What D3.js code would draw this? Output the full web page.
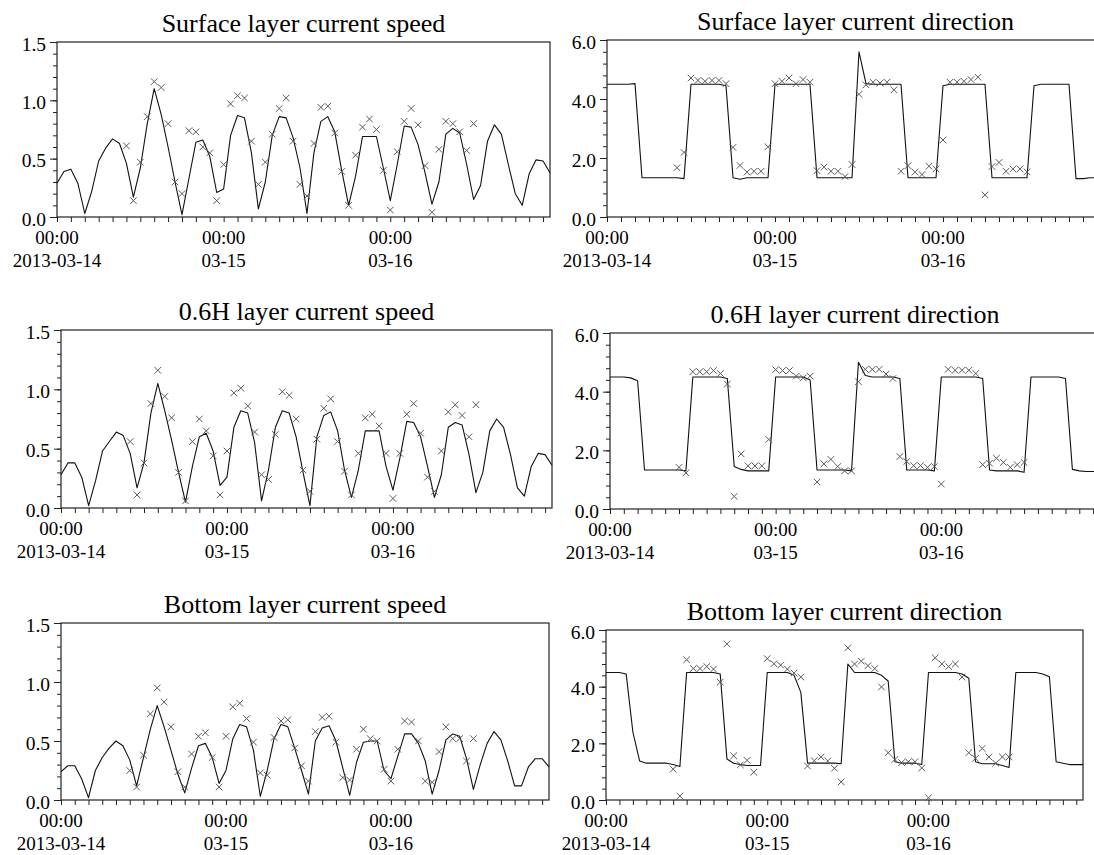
<!DOCTYPE html>
<html>
<head>
<meta charset="utf-8">
<script src="https://cdn.jsdelivr.net/npm/d3@7"></script>
<style>
  body { margin: 0; background: #fff; }
  svg { display: block; font-family: "Liberation Serif", "Times New Roman", serif; }
</style>
</head>
<body>
<svg id="chart" width="1094" height="855"></svg>
<script>
// hourly model output, 2013-03-14 00:00 .. 03-16 23:00
const hours = d3.range(72);
// hours with measurements (03-14 10:00 .. 03-16 12:00)
const obsHours = d3.range(10, 61);

const titles = [
  'Surface layer current speed', 'Surface layer current direction',
  '0.6H layer current speed', '0.6H layer current direction',
  'Bottom layer current speed', 'Bottom layer current direction'
];

const dayTicks = [0, 24, 48];
const timeLabels = ['00:00', '00:00', '00:00'];
const dateLabels = ['2013-03-14', '03-15', '03-16'];

const speedTicks = [0, 0.5, 1.0, 1.5];
const dirTicks = [0, 2, 4, 6];

// surface layer
const surfSpeedModel = [
  0.29, 0.39, 0.41, 0.29, 0.03, 0.22, 0.48, 0.59, 0.67, 0.63,
  0.46, 0.17, 0.42, 0.80, 1.10, 0.88, 0.60, 0.30, 0.02, 0.33,
  0.64, 0.66, 0.52, 0.21, 0.24, 0.70, 0.87, 0.85, 0.55, 0.07,
  0.30, 0.70, 0.86, 0.85, 0.68, 0.42, 0.03, 0.55, 0.82, 0.86,
  0.73, 0.40, 0.10, 0.35, 0.69, 0.69, 0.69, 0.42, 0.14, 0.45,
  0.78, 0.77, 0.62, 0.38, 0.11, 0.30, 0.71, 0.76, 0.72, 0.45,
  0.15, 0.27, 0.65, 0.79, 0.71, 0.45, 0.20, 0.10, 0.37, 0.49,
  0.48, 0.38
];
const surfSpeedObs = [
  0.61, 0.14, 0.47, 0.86, 1.16, 1.11, 0.80, 0.30, 0.20, 0.74,
  0.73, 0.60, 0.55, 0.14, 0.45, 0.97, 1.04, 1.02, 0.65, 0.28,
  0.47, 0.71, 0.93, 1.02, 0.65, 0.28, 0.18, 0.63, 0.94, 0.95,
  0.72, 0.39, 0.10, 0.53, 0.77, 0.84, 0.75, 0.40, 0.06, 0.56,
  0.82, 0.93, 0.79, 0.44, 0.04, 0.58, 0.82, 0.80, 0.73, 0.57,
  0.80
];
const surfDirModel = [
  4.50, 4.50, 4.50, 4.50, 4.52, 1.33, 1.33, 1.33, 1.33, 1.33,
  1.33, 1.30, 4.50, 4.50, 4.50, 4.50, 4.50, 4.45, 1.33, 1.28,
  1.33, 1.33, 1.33, 1.33, 4.50, 4.50, 4.50, 4.50, 4.50, 4.50,
  1.33, 1.33, 1.33, 1.33, 1.33, 1.33, 5.60, 4.52, 4.50, 4.50,
  4.50, 4.50, 4.50, 1.33, 1.33, 1.33, 1.33, 1.33, 4.45, 4.50,
  4.50, 4.50, 4.50, 4.50, 4.50, 1.33, 1.33, 1.33, 1.33, 1.33,
  1.33, 4.45, 4.50, 4.50, 4.50, 4.50, 4.50, 1.30, 1.30, 1.33,
  1.33, 1.33
];
const surfDirObs = [
  1.67, 2.19, 4.71, 4.63, 4.60, 4.63, 4.63, 4.52, 2.36, 1.75,
  1.52, 1.55, 1.55, 2.38, 4.52, 4.60, 4.71, 4.52, 4.66, 4.57,
  1.57, 1.69, 1.55, 1.55, 1.37, 1.78, 4.16, 4.48, 4.57, 4.54,
  4.57, 4.31, 1.55, 1.74, 1.52, 1.44, 1.72, 1.63, 2.61, 4.57,
  4.57, 4.60, 4.66, 4.74, 0.75, 1.71, 1.85, 1.55, 1.63, 1.63,
  1.53
];

// 0.6H layer
const midSpeedModel = [
  0.28, 0.38, 0.38, 0.26, 0.02, 0.23, 0.48, 0.56, 0.64, 0.61,
  0.46, 0.17, 0.38, 0.80, 1.05, 0.82, 0.57, 0.30, 0.05, 0.35,
  0.60, 0.63, 0.48, 0.19, 0.26, 0.68, 0.82, 0.80, 0.55, 0.06,
  0.32, 0.68, 0.82, 0.80, 0.60, 0.30, 0.02, 0.60, 0.78, 0.81,
  0.65, 0.32, 0.09, 0.32, 0.65, 0.65, 0.65, 0.35, 0.15, 0.42,
  0.73, 0.72, 0.60, 0.35, 0.09, 0.28, 0.68, 0.72, 0.70, 0.45,
  0.13, 0.30, 0.65, 0.75, 0.68, 0.45, 0.17, 0.10, 0.35, 0.46,
  0.45, 0.36
];
const midSpeedObs = [
  0.56, 0.11, 0.38, 0.88, 1.16, 0.94, 0.76, 0.30, 0.06, 0.56,
  0.75, 0.65, 0.44, 0.11, 0.48, 0.97, 1.01, 0.86, 0.64, 0.28,
  0.24, 0.62, 0.98, 0.95, 0.75, 0.32, 0.14, 0.58, 0.84, 0.92,
  0.56, 0.31, 0.11, 0.46, 0.76, 0.79, 0.69, 0.46, 0.08, 0.46,
  0.79, 0.88, 0.63, 0.26, 0.14, 0.48, 0.81, 0.87, 0.78, 0.60,
  0.87
];
const midDirModel = [
  4.50, 4.50, 4.50, 4.47, 4.37, 1.33, 1.33, 1.33, 1.33, 1.33,
  1.33, 1.30, 4.50, 4.50, 4.50, 4.50, 4.50, 4.45, 1.45, 1.35,
  1.30, 1.30, 1.30, 1.30, 4.50, 4.50, 4.50, 4.50, 4.50, 4.40,
  1.33, 1.33, 1.33, 1.33, 1.33, 1.30, 5.00, 4.55, 4.50, 4.50,
  4.50, 4.50, 4.45, 1.33, 1.33, 1.33, 1.33, 1.30, 4.50, 4.50,
  4.50, 4.50, 4.50, 4.50, 4.45, 1.33, 1.30, 1.30, 1.30, 1.30,
  1.25, 4.50, 4.50, 4.50, 4.50, 4.50, 4.45, 1.35, 1.30, 1.28,
  1.28, 1.28
];
const midDirObs = [
  1.42, 1.23, 4.68, 4.68, 4.68, 4.72, 4.62, 4.26, 0.43, 1.88,
  1.47, 1.47, 1.47, 2.37, 4.75, 4.72, 4.72, 4.53, 4.47, 4.53,
  0.92, 1.54, 1.69, 1.45, 1.30, 1.30, 4.34, 4.76, 4.76, 4.76,
  4.60, 4.45, 1.79, 1.62, 1.48, 1.48, 1.42, 1.45, 0.85, 4.76,
  4.73, 4.73, 4.73, 4.62, 1.51, 1.56, 1.73, 1.59, 1.42, 1.51,
  1.59
];

// bottom layer
const botSpeedModel = [
  0.24, 0.29, 0.29, 0.18, 0.02, 0.25, 0.36, 0.44, 0.50, 0.46,
  0.34, 0.12, 0.36, 0.60, 0.80, 0.62, 0.42, 0.22, 0.06, 0.27,
  0.46, 0.48, 0.36, 0.14, 0.25, 0.52, 0.64, 0.62, 0.42, 0.03,
  0.25, 0.52, 0.64, 0.62, 0.44, 0.25, 0.05, 0.50, 0.61, 0.63,
  0.50, 0.27, 0.04, 0.32, 0.49, 0.50, 0.50, 0.25, 0.18, 0.37,
  0.56, 0.56, 0.48, 0.33, 0.05, 0.25, 0.51, 0.56, 0.54, 0.35,
  0.09, 0.30, 0.48, 0.58, 0.51, 0.33, 0.12, 0.12, 0.28, 0.35,
  0.35, 0.28
];
const botSpeedObs = [
  0.25, 0.11, 0.38, 0.73, 0.95, 0.83, 0.62, 0.24, 0.11, 0.39,
  0.54, 0.57, 0.36, 0.11, 0.54, 0.79, 0.82, 0.69, 0.49, 0.23,
  0.21, 0.53, 0.67, 0.68, 0.44, 0.29, 0.16, 0.58, 0.70, 0.71,
  0.49, 0.19, 0.17, 0.43, 0.60, 0.52, 0.50, 0.26, 0.16, 0.43,
  0.67, 0.66, 0.50, 0.16, 0.15, 0.41, 0.62, 0.52, 0.52, 0.33,
  0.52
];
const botDirModel = [
  4.50, 4.50, 4.50, 4.45, 2.40, 1.38, 1.30, 1.30, 1.30, 1.30,
  1.25, 1.18, 4.50, 4.50, 4.50, 4.50, 4.50, 4.45, 1.45, 1.30,
  1.25, 1.22, 1.22, 1.22, 4.50, 4.50, 4.50, 4.50, 4.40, 3.80,
  1.30, 1.30, 1.30, 1.30, 1.30, 1.28, 4.80, 4.50, 4.50, 4.50,
  4.50, 4.40, 4.20, 1.35, 1.30, 1.30, 1.30, 1.25, 4.50, 4.50,
  4.50, 4.50, 4.50, 4.45, 4.30, 1.35, 1.28, 1.28, 1.28, 1.22,
  1.15, 4.50, 4.50, 4.50, 4.50, 4.45, 4.35, 1.35, 1.30, 1.25,
  1.25, 1.25
];
const botDirObs = [
  1.09, 0.14, 4.95, 4.64, 4.64, 4.71, 4.62, 4.16, 5.51, 1.56,
  1.24, 1.40, 0.98, null, 4.99, 4.81, 4.76, 4.62, 4.48, 4.34,
  1.20, 1.39, 1.52, 1.38, 1.12, 0.64, 5.37, 4.80, 4.90, 4.74,
  4.64, 3.99, 1.67, 1.43, 1.32, 1.35, 1.35, 1.13, 0.08, 5.02,
  4.80, 4.71, 4.80, 4.34, 1.67, 1.47, 1.82, 1.52, 1.30, 1.52,
  1.52
];

// plot boxes, in page pixels (right-hand plots of rows 1-2 run off the page)
const boxes = [
  {left: 57,  right: 550,  top: 42,  bottom: 217},
  {left: 607, right: 1104, top: 40,  bottom: 217},
  {left: 61,  right: 552,  top: 330, bottom: 508},
  {left: 610, right: 1100, top: 333, bottom: 509},
  {left: 61,  right: 549,  top: 623, bottom: 800},
  {left: 606, right: 1083, top: 630, bottom: 800}
];

let panels = [
  {model: surfSpeedModel, obs: surfSpeedObs, major: speedTicks, minorStep: 0.1},
  {model: surfDirModel,   obs: surfDirObs,   major: dirTicks,   minorStep: 0.4},
  {model: midSpeedModel,  obs: midSpeedObs,  major: speedTicks, minorStep: 0.1},
  {model: midDirModel,    obs: midDirObs,    major: dirTicks,   minorStep: 0.4},
  {model: botSpeedModel,  obs: botSpeedObs,  major: speedTicks, minorStep: 0.1},
  {model: botDirModel,    obs: botDirObs,    major: dirTicks,   minorStep: 0.4}
];

// style
let lineColor = '#111',
    crossColor = '#5a5a5a',
    axisColor = '#222',
    serif = '"Liberation Serif", "Times New Roman", serif';

let svg = d3.select('#chart');
svg.append('rect').attr('width', 1094).attr('height', 855).attr('fill', '#fff');

let cross = d3.symbol(d3.symbolTimes).size(30);

panels.forEach((p, i) => {
  let b = boxes[i];
  let yMax = p.major[p.major.length - 1];
  let x = d3.scaleLinear().domain([0, 71]).range([b.left, b.right]);
  let y = d3.scaleLinear().domain([0, yMax]).range([b.bottom, b.top]);
  let g = svg.append('g');

  // title
  g.append('text')
    .attr('x', (b.left + b.right) / 2)
    .attr('y', b.top - 10)
    .attr('text-anchor', 'middle')
    .attr('font-size', 26)
    .attr('font-family', serif)
    .attr('fill', '#000')
    .text(titles[i]);

  // y axis: labelled ticks + minor ticks
  let nMinor = Math.round(yMax / p.minorStep);
  let minor = d3.range(nMinor + 1).map(k => +(k * p.minorStep).toFixed(2));
  g.append('g')
    .attr('transform', `translate(${b.left},0)`)
    .call(d3.axisLeft(y).tickValues(minor).tickSize(4).tickFormat(''))
    .call(a => a.select('.domain').remove());
  g.append('g')
    .attr('transform', `translate(${b.left},0)`)
    .call(d3.axisLeft(y).tickValues(p.major).tickSize(7).tickPadding(4).tickFormat(d3.format('.1f')))
    .call(a => a.select('.domain').remove())
    .call(a => a.selectAll('text')
      .attr('font-size', 19.5)
      .attr('dy', '0.42em')
      .attr('fill', '#000')
      .attr('font-family', serif));

  // x axis: a tick every 2 hours
  g.append('g')
    .attr('transform', `translate(0,${b.bottom})`)
    .call(d3.axisBottom(x).tickValues(d3.range(0, 72, 2)).tickSize(5).tickFormat(''))
    .call(a => a.select('.domain').remove());

  g.selectAll('g .tick line').attr('stroke', axisColor);

  let days = g.selectAll('.day').data(dayTicks).join('g')
    .attr('class', 'day')
    .attr('transform', d => `translate(${x(d)},${b.bottom})`)
    .attr('font-size', 19)
    .attr('font-family', serif)
    .attr('text-anchor', 'middle')
    .attr('fill', '#000');
  days.append('text').attr('y', 27).text((d, k) => timeLabels[k]);
  days.append('text').attr('y', 50).text((d, k) => dateLabels[k]);

  // frame
  g.append('rect')
    .attr('x', b.left).attr('y', b.top)
    .attr('width', b.right - b.left).attr('height', b.bottom - b.top)
    .attr('fill', 'none').attr('stroke', axisColor).attr('stroke-width', 1.2);

  // model line
  let line = d3.line().x((d, k) => x(hours[k])).y(d => y(d));
  g.append('path')
    .datum(p.model)
    .attr('d', line)
    .attr('fill', 'none')
    .attr('stroke', lineColor)
    .attr('stroke-width', 1.1)
    .attr('stroke-linejoin', 'round');

  // observations
  let pts = obsHours.map((h, k) => ({h: h, v: p.obs[k]})).filter(d => d.v != null);
  g.selectAll('.obs').data(pts).join('path')
    .attr('class', 'obs')
    .attr('transform', d => `translate(${x(d.h)},${y(d.v)})`)
    .attr('d', cross)
    .attr('fill', 'none')
    .attr('stroke', crossColor)
    .attr('stroke-width', 1);
});
</script>
</body>
</html>
